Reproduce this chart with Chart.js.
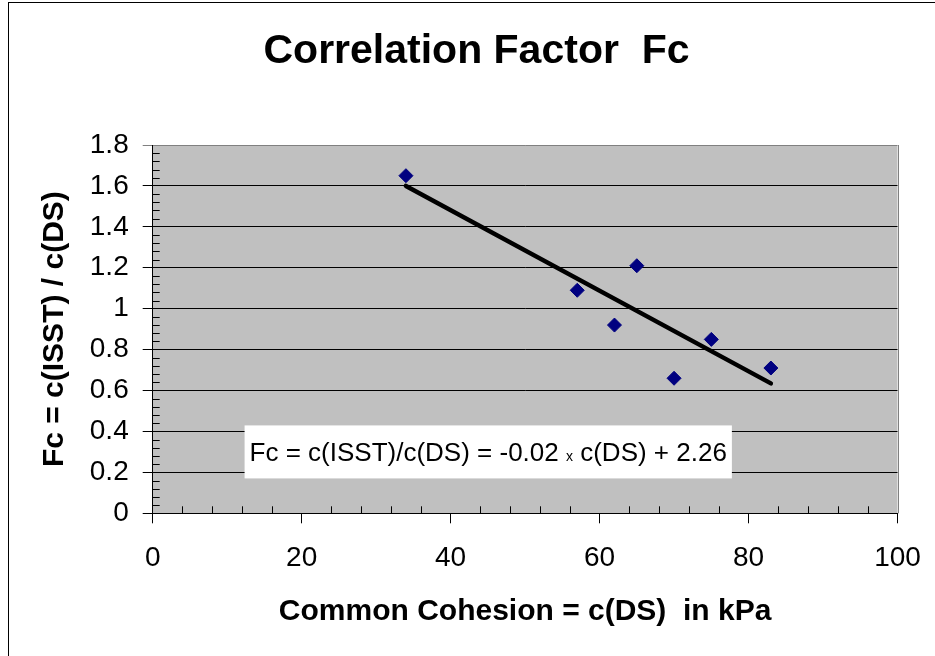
<!DOCTYPE html>
<html><head><meta charset="utf-8">
<script src="https://cdn.jsdelivr.net/npm/chart.js@4/dist/chart.umd.min.js"></script>
<style>html,body{margin:0;padding:0;background:#fff;}canvas{display:block;}</style>
</head><body>
<canvas id="c" width="935" height="656"></canvas>
<script>
const cohesion = [34, 57, 62, 65, 70, 75, 83];
const fcValues = [1.65, 1.09, 0.92, 1.21, 0.66, 0.85, 0.71];
const trendX = [34, 83];
const trendY = [1.60, 0.635];
const xTickLabels = ['0', '20', '40', '60', '80', '100'];
const yTickLabels = ['0', '0.2', '0.4', '0.6', '0.8', '1', '1.2', '1.4', '1.6', '1.8'];
const titleText = 'Correlation Factor  Fc';
const xTitle = 'Common Cohesion = c(DS)  in kPa';
const yTitle = 'Fc = c(ISST) / c(DS)';
const eqParts = ['Fc = c(ISST)/c(DS) = -0.02 ', 'x', ' c(DS) + 2.26'];

const FONT = "'Liberation Sans', Arial, sans-serif";
const PAD_LEFT = 55.5;
const PAD_RIGHT = 37.5;

const decor = {
  id: 'decor',
  beforeDraw(chart) {
    const ctx = chart.ctx, a = chart.chartArea;
    ctx.save();
    ctx.fillStyle = '#ffffff';
    ctx.fillRect(0, 0, chart.width, chart.height);
    ctx.strokeStyle = '#000000';
    ctx.lineWidth = 1;
    ctx.strokeRect(8.5, 2.5, 1200, 1200);
    ctx.fillStyle = '#C0C0C0';
    ctx.fillRect(a.left, a.top, a.right - a.left, a.bottom - a.top);
    ctx.restore();
  },
  afterDatasetsDraw(chart) {
    const ctx = chart.ctx, a = chart.chartArea;
    const xs = chart.scales.x, ys = chart.scales.y;
    ctx.save();
    // plot border right
    ctx.strokeStyle = '#808080';
    ctx.lineWidth = 1;
    ctx.beginPath();
    ctx.moveTo(Math.round(a.right) + 0.5, a.top);
    ctx.lineTo(Math.round(a.right) + 0.5, a.bottom);
    ctx.stroke();
    // minor ticks
    ctx.strokeStyle = '#000000';
    ctx.beginPath();
    for (let i = 1; i < 45; i++) {
      if (i % 5 === 0) continue;
      const y = Math.round(ys.getPixelForValue(i * 0.04)) + 0.5;
      ctx.moveTo(a.left, y);
      ctx.lineTo(a.left + 7, y);
    }
    for (let i = 1; i < 25; i++) {
      if (i % 5 === 0) continue;
      const x = Math.round(xs.getPixelForValue(i * 4)) + 0.5;
      ctx.moveTo(x, a.bottom);
      ctx.lineTo(x, a.bottom - 7);
    }
    ctx.stroke();
    // equation box
    const big = '26px ' + FONT, small = '14px ' + FONT;
    ctx.font = big;
    const w0 = ctx.measureText(eqParts[0]).width;
    const w2 = ctx.measureText(eqParts[2]).width;
    ctx.font = small;
    const w1 = ctx.measureText(eqParts[1]).width;
    const tw = w0 + w1 + w2;
    const cx = xs.getPixelForValue(45.05);
    const cy = ys.getPixelForValue(0.30);
    const bw = tw + 10, bh = 53;
    ctx.fillStyle = '#ffffff';
    ctx.fillRect(cx - bw / 2, cy - bh / 2, bw, bh);
    ctx.fillStyle = '#000000';
    ctx.textBaseline = 'alphabetic';
    ctx.textAlign = 'left';
    const base = cy + 9.5;
    let x = cx - tw / 2;
    ctx.font = big;
    ctx.fillText(eqParts[0], x, base);
    x += w0;
    ctx.font = small;
    ctx.fillText(eqParts[1], x, base);
    x += w1;
    ctx.font = big;
    ctx.fillText(eqParts[2], x, base);
    ctx.restore();
  }
};

new Chart(document.getElementById('c'), {
  type: 'scatter',
  data: {
    datasets: [
      {
        label: 'Fc',
        data: cohesion.map((v, i) => ({x: v, y: fcValues[i]})),
        pointStyle: 'rectRot',
        pointRadius: 7,
        pointHoverRadius: 7,
        backgroundColor: '#000080',
        borderColor: '#000080',
        borderWidth: 1,
        showLine: false,
        order: 2
      },
      {
        label: 'Trend',
        type: 'line',
        data: trendX.map((v, i) => ({x: v, y: trendY[i]})),
        borderColor: '#000000',
        borderWidth: 4.5,
        borderCapStyle: 'round',
        pointRadius: 0,
        fill: false,
        order: 1
      }
    ]
  },
  options: {
    responsive: false,
    animation: false,
    events: [],
    layout: {padding: {left: PAD_LEFT, right: PAD_RIGHT, top: 0, bottom: 0}},
    plugins: {
      legend: {display: false},
      tooltip: {enabled: false},
      title: {
        display: true,
        text: titleText,
        color: '#000000',
        font: {family: FONT, size: 41, weight: 'bold'},
        padding: {top: 27.5, bottom: 68.3}
      }
    },
    scales: {
      x: {
        type: 'linear',
        min: 0, max: 100,
        afterFit(s) { s.height = 142.7; s.paddingRight = 0; s.paddingLeft = 0; },
        ticks: {
          stepSize: 20,
          color: '#000000',
          font: {family: FONT, size: 28},
          padding: 18,
          maxRotation: 0,
          callback: (v, i) => xTickLabels[i]
        },
        grid: {drawOnChartArea: false, drawTicks: true, tickLength: 10, color: '#000000'},
        border: {display: true, color: '#000000', width: 1},
        title: {
          display: true,
          text: xTitle,
          color: '#000000',
          font: {family: FONT, size: 30, weight: 'bold'},
          padding: {top: 0, bottom: 26}
        }
      },
      y: {
        type: 'linear',
        min: 0, max: 1.8,
        afterFit(s) { s.width = 152.7 - PAD_LEFT; },
        ticks: {
          stepSize: 0.2,
          color: '#000000',
          font: {family: FONT, size: 28},
          padding: 14,
          callback: (v, i) => yTickLabels[i]
        },
        grid: {
          drawOnChartArea: true,
          drawTicks: true,
          tickLength: 10,
          color: (c) => (c.tick && c.tick.value > 1.79) ? '#808080' : '#000000'
        },
        border: {display: true, color: '#000000', width: 1},
        title: {
          display: true,
          text: yTitle,
          color: '#000000',
          font: {family: FONT, size: 30, weight: 'bold'},
          padding: {top: 37 - PAD_LEFT, bottom: 0}
        }
      }
    }
  },
  plugins: [decor]
});
</script>
</body></html>
